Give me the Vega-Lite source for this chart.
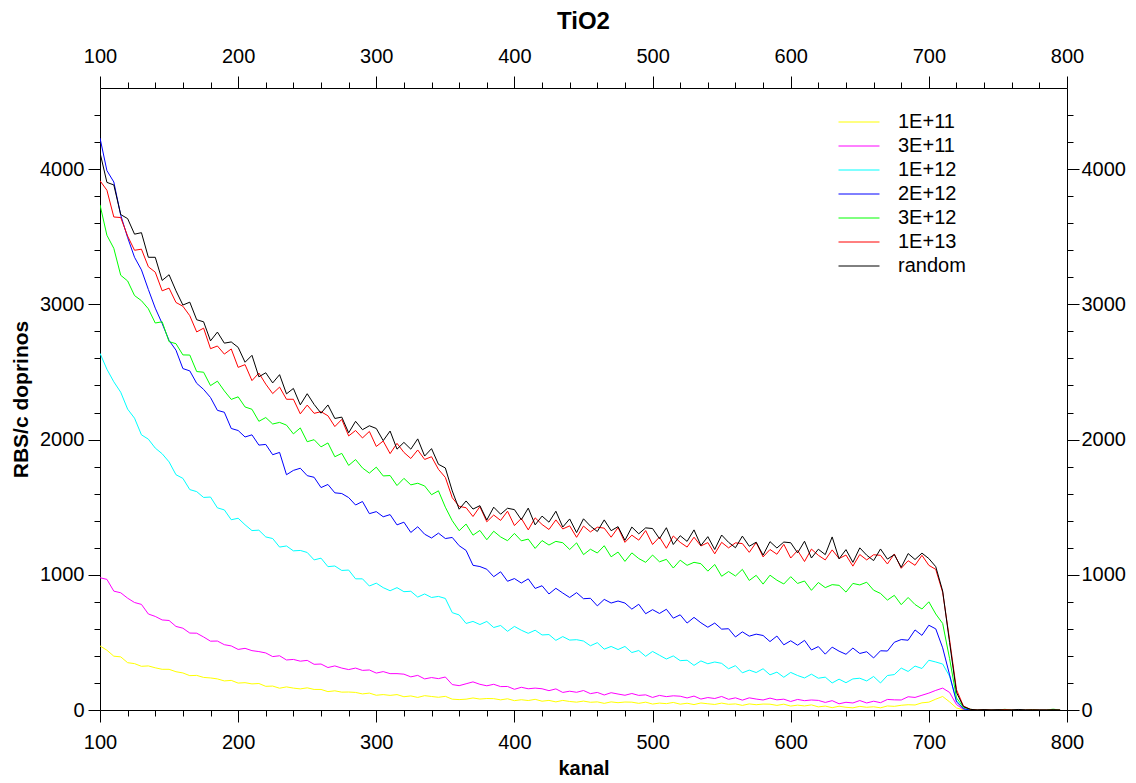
{
"$schema": "https://vega.github.io/schema/vega-lite/v6.json",
"width": 967, "height": 622,
"autosize": "none",
"padding": {"left": 100, "top": 88, "right": 69, "bottom": 73},
"background": "white",
"view": {"stroke": null},
"title": {"text": "TiO2", "font": "Liberation Sans", "fontSize": 24, "fontWeight": "bold", "color": "black", "offset": 12},
"config": {
  "font": "Liberation Sans",
  "axis": {"domainColor": "black", "tickColor": "black", "labelColor": "black", "titleColor": "black", "labelFont": "Liberation Sans", "labelFontSize": 20, "titleFont": "Liberation Sans", "titleFontSize": 20, "titleFontWeight": "bold", "grid": false, "labelOverlap": false, "labelFlush": false, "domainWidth": 1, "tickWidth": 1}
},
"data": {"values": [
{"k":100,"a":474,"b":978,"c":2638,"d":4230,"e":3736,"f":3914,"g":4122},
{"k":105,"a":442,"b":966,"c":2520,"d":3989,"e":3511,"f":3844,"g":3902},
{"k":110,"a":398,"b":879,"c":2427,"d":3905,"e":3414,"f":3646,"g":3883},
{"k":115,"a":393,"b":867,"c":2350,"d":3659,"e":3215,"f":3642,"g":3664},
{"k":120,"a":350,"b":827,"c":2225,"d":3494,"e":3173,"f":3505,"g":3634},
{"k":125,"a":343,"b":795,"c":2158,"d":3348,"e":3065,"f":3400,"g":3519},
{"k":130,"a":323,"b":781,"c":2035,"d":3255,"e":3027,"f":3408,"g":3530},
{"k":135,"a":326,"b":710,"c":2003,"d":3110,"e":2967,"f":3278,"g":3348},
{"k":140,"a":312,"b":692,"c":1937,"d":2972,"e":2862,"f":3238,"g":3348},
{"k":145,"a":301,"b":666,"c":1895,"d":2858,"e":2871,"f":3100,"g":3177},
{"k":150,"a":301,"b":662,"c":1835,"d":2733,"e":2724,"f":3120,"g":3219},
{"k":155,"a":283,"b":618,"c":1740,"d":2661,"e":2709,"f":3014,"g":3100},
{"k":160,"a":274,"b":605,"c":1713,"d":2525,"e":2626,"f":2986,"g":2995},
{"k":165,"a":254,"b":569,"c":1630,"d":2508,"e":2625,"f":2916,"g":3016},
{"k":170,"a":256,"b":568,"c":1615,"d":2416,"e":2503,"f":2796,"g":2886},
{"k":175,"a":241,"b":540,"c":1572,"d":2371,"e":2498,"f":2824,"g":2871},
{"k":180,"a":237,"b":509,"c":1575,"d":2311,"e":2399,"f":2672,"g":2730},
{"k":185,"a":230,"b":510,"c":1495,"d":2216,"e":2432,"f":2692,"g":2795},
{"k":190,"a":215,"b":483,"c":1480,"d":2202,"e":2360,"f":2632,"g":2713},
{"k":195,"a":219,"b":474,"c":1407,"d":2082,"e":2297,"f":2670,"g":2722},
{"k":200,"a":199,"b":448,"c":1418,"d":2067,"e":2316,"f":2534,"g":2682},
{"k":205,"a":202,"b":456,"c":1370,"d":2019,"e":2241,"f":2554,"g":2572},
{"k":210,"a":193,"b":439,"c":1327,"d":2035,"e":2224,"f":2436,"g":2623},
{"k":215,"a":196,"b":432,"c":1330,"d":1959,"e":2135,"f":2492,"g":2464},
{"k":220,"a":175,"b":422,"c":1280,"d":1964,"e":2163,"f":2410,"g":2494},
{"k":225,"a":177,"b":395,"c":1268,"d":1888,"e":2115,"f":2340,"g":2419},
{"k":230,"a":161,"b":401,"c":1205,"d":1905,"e":2127,"f":2388,"g":2480},
{"k":235,"a":171,"b":370,"c":1213,"d":1740,"e":2107,"f":2298,"g":2338},
{"k":240,"a":162,"b":374,"c":1177,"d":1772,"e":2042,"f":2298,"g":2378},
{"k":245,"a":156,"b":361,"c":1180,"d":1788,"e":2086,"f":2190,"g":2257},
{"k":250,"a":164,"b":367,"c":1165,"d":1733,"e":1984,"f":2255,"g":2339},
{"k":255,"a":152,"b":338,"c":1110,"d":1721,"e":1999,"f":2194,"g":2260},
{"k":260,"a":152,"b":340,"c":1123,"d":1645,"e":1946,"f":2206,"g":2195},
{"k":265,"a":136,"b":314,"c":1060,"d":1668,"e":1975,"f":2176,"g":2256},
{"k":270,"a":142,"b":326,"c":1065,"d":1606,"e":1873,"f":2096,"g":2156},
{"k":275,"a":132,"b":310,"c":1032,"d":1601,"e":1898,"f":2149,"g":2166},
{"k":280,"a":133,"b":299,"c":1035,"d":1571,"e":1809,"f":2027,"g":2050},
{"k":285,"a":130,"b":310,"c":970,"d":1516,"e":1852,"f":2067,"g":2135},
{"k":290,"a":119,"b":293,"c":970,"d":1542,"e":1790,"f":2012,"g":2073},
{"k":295,"a":125,"b":296,"c":917,"d":1452,"e":1752,"f":2060,"g":2102},
{"k":300,"a":109,"b":273,"c":938,"d":1467,"e":1796,"f":1949,"g":2082},
{"k":305,"a":114,"b":284,"c":905,"d":1429,"e":1731,"f":1989,"g":1992},
{"k":310,"a":108,"b":269,"c":882,"d":1445,"e":1734,"f":1896,"g":2063},
{"k":315,"a":114,"b":269,"c":905,"d":1369,"e":1660,"f":1972,"g":1929},
{"k":320,"a":98,"b":265,"c":875,"d":1389,"e":1713,"f":1905,"g":1979},
{"k":325,"a":104,"b":245,"c":878,"d":1313,"e":1665,"f":1860,"g":1929},
{"k":330,"a":93,"b":256,"c":835,"d":1355,"e":1677,"f":1923,"g":2005},
{"k":335,"a":106,"b":230,"c":858,"d":1300,"e":1657,"f":1853,"g":1878},
{"k":340,"a":100,"b":240,"c":832,"d":1272,"e":1592,"f":1873,"g":1933},
{"k":345,"a":94,"b":232,"c":840,"d":1308,"e":1621,"f":1780,"g":1817},
{"k":350,"a":101,"b":244,"c":825,"d":1268,"e":1500,"f":1720,"g":1790},
{"k":355,"a":80,"b":188,"c":720,"d":1276,"e":1400,"f":1570,"g":1620},
{"k":360,"a":77,"b":180,"c":703,"d":1215,"e":1326,"f":1506,"g":1485},
{"k":365,"a":80,"b":194,"c":640,"d":1180,"e":1375,"f":1496,"g":1546},
{"k":370,"a":89,"b":208,"c":655,"d":1070,"e":1293,"f":1431,"g":1486},
{"k":375,"a":81,"b":190,"c":632,"d":1061,"e":1328,"f":1504,"g":1511},
{"k":380,"a":85,"b":179,"c":655,"d":1041,"e":1259,"f":1392,"g":1405},
{"k":385,"a":84,"b":190,"c":610,"d":986,"e":1322,"f":1442,"g":1500},
{"k":390,"a":75,"b":173,"c":625,"d":1022,"e":1280,"f":1402,"g":1448},
{"k":395,"a":83,"b":174,"c":582,"d":952,"e":1252,"f":1470,"g":1492},
{"k":400,"a":69,"b":153,"c":618,"d":972,"e":1306,"f":1364,"g":1482},
{"k":405,"a":76,"b":168,"c":590,"d":939,"e":1251,"f":1417,"g":1407},
{"k":410,"a":70,"b":157,"c":567,"d":970,"e":1264,"f":1332,"g":1493},
{"k":415,"a":79,"b":162,"c":590,"d":899,"e":1195,"f":1421,"g":1369},
{"k":420,"a":65,"b":157,"c":555,"d":919,"e":1253,"f":1372,"g":1434},
{"k":425,"a":71,"b":143,"c":558,"d":858,"e":1220,"f":1335,"g":1389},
{"k":430,"a":60,"b":156,"c":515,"d":900,"e":1247,"f":1406,"g":1470},
{"k":435,"a":71,"b":130,"c":543,"d":865,"e":1237,"f":1339,"g":1353},
{"k":440,"a":63,"b":139,"c":517,"d":832,"e":1187,"f":1362,"g":1413},
{"k":445,"a":58,"b":131,"c":520,"d":868,"e":1236,"f":1277,"g":1312},
{"k":450,"a":66,"b":144,"c":510,"d":823,"e":1149,"f":1360,"g":1414},
{"k":455,"a":57,"b":121,"c":475,"d":826,"e":1189,"f":1317,"g":1360},
{"k":460,"a":60,"b":130,"c":498,"d":770,"e":1161,"f":1352,"g":1320},
{"k":465,"a":49,"b":111,"c":450,"d":818,"e":1215,"f":1345,"g":1406},
{"k":470,"a":60,"b":128,"c":470,"d":791,"e":1133,"f":1278,"g":1326},
{"k":475,"a":54,"b":118,"c":447,"d":806,"e":1168,"f":1349,"g":1356},
{"k":480,"a":59,"b":109,"c":470,"d":791,"e":1099,"f":1240,"g":1255},
{"k":485,"a":58,"b":122,"c":425,"d":746,"e":1162,"f":1293,"g":1353},
{"k":490,"a":49,"b":108,"c":440,"d":782,"e":1120,"f":1256,"g":1303},
{"k":495,"a":58,"b":112,"c":397,"d":712,"e":1092,"f":1327,"g":1347},
{"k":500,"a":44,"b":93,"c":433,"d":742,"e":1146,"f":1224,"g":1342},
{"k":505,"a":51,"b":108,"c":405,"d":714,"e":1096,"f":1279,"g":1267},
{"k":510,"a":47,"b":99,"c":377,"d":745,"e":1114,"f":1196,"g":1348},
{"k":515,"a":56,"b":105,"c":400,"d":679,"e":1050,"f":1287,"g":1224},
{"k":520,"a":43,"b":102,"c":365,"d":704,"e":1108,"f":1240,"g":1289},
{"k":525,"a":50,"b":89,"c":368,"d":643,"e":1070,"f":1205,"g":1247},
{"k":530,"a":40,"b":103,"c":330,"d":685,"e":1092,"f":1278,"g":1332},
{"k":535,"a":52,"b":81,"c":363,"d":645,"e":1082,"f":1213,"g":1216},
{"k":540,"a":46,"b":92,"c":342,"d":612,"e":1027,"f":1238,"g":1282},
{"k":545,"a":41,"b":85,"c":355,"d":643,"e":1076,"f":1155,"g":1187},
{"k":550,"a":51,"b":100,"c":345,"d":598,"e":989,"f":1240,"g":1294},
{"k":555,"a":42,"b":79,"c":305,"d":601,"e":1024,"f":1199,"g":1240},
{"k":560,"a":45,"b":90,"c":328,"d":540,"e":991,"f":1236,"g":1200},
{"k":565,"a":34,"b":73,"c":275,"d":578,"e":1040,"f":1231,"g":1286},
{"k":570,"a":45,"b":90,"c":295,"d":546,"e":958,"f":1166,"g":1211},
{"k":575,"a":39,"b":81,"c":277,"d":561,"e":996,"f":1239,"g":1241},
{"k":580,"a":44,"b":74,"c":305,"d":551,"e":931,"f":1132,"g":1145},
{"k":585,"a":43,"b":88,"c":260,"d":506,"e":997,"f":1187,"g":1245},
{"k":590,"a":34,"b":75,"c":280,"d":547,"e":960,"f":1152,"g":1198},
{"k":595,"a":43,"b":80,"c":242,"d":482,"e":932,"f":1225,"g":1242},
{"k":600,"a":29,"b":63,"c":278,"d":512,"e":986,"f":1124,"g":1237},
{"k":605,"a":36,"b":78,"c":255,"d":479,"e":936,"f":1180,"g":1162},
{"k":610,"a":30,"b":69,"c":237,"d":515,"e":954,"f":1098,"g":1248},
{"k":615,"a":38,"b":74,"c":265,"d":444,"e":885,"f":1190,"g":1124},
{"k":620,"a":23,"b":71,"c":235,"d":469,"e":943,"f":1144,"g":1189},
{"k":625,"a":29,"b":56,"c":243,"d":413,"e":905,"f":1110,"g":1149},
{"k":630,"a":17,"b":69,"c":200,"d":465,"e":927,"f":1184,"g":1280},
{"k":635,"a":28,"b":46,"c":228,"d":435,"e":922,"f":1120,"g":1118},
{"k":640,"a":20,"b":57,"c":202,"d":412,"e":872,"f":1146,"g":1186},
{"k":645,"a":16,"b":52,"c":230,"d":458,"e":936,"f":1064,"g":1092},
{"k":650,"a":27,"b":70,"c":235,"d":418,"e":925,"f":1150,"g":1199},
{"k":655,"a":20,"b":52,"c":215,"d":431,"e":945,"f":1110,"g":1145},
{"k":660,"a":24,"b":65,"c":248,"d":385,"e":886,"f":1148,"g":1105},
{"k":665,"a":16,"b":54,"c":200,"d":438,"e":862,"f":1144,"g":1191},
{"k":670,"a":30,"b":78,"c":255,"d":436,"e":813,"f":1080,"g":1116},
{"k":675,"a":27,"b":75,"c":262,"d":501,"e":848,"f":1154,"g":1149},
{"k":680,"a":35,"b":74,"c":310,"d":521,"e":779,"f":1048,"g":1055},
{"k":685,"a":39,"b":98,"c":285,"d":516,"e":832,"f":1104,"g":1157},
{"k":690,"a":37,"b":93,"c":325,"d":592,"e":780,"f":1070,"g":1113},
{"k":695,"a":53,"b":109,"c":307,"d":552,"e":747,"f":1144,"g":1160},
{"k":700,"a":58,"b":125,"c":368,"d":627,"e":800,"f":1070,"g":1120},
{"k":705,"a":80,"b":145,"c":355,"d":600,"e":710,"f":1040,"g":1060},
{"k":710,"a":100,"b":162,"c":340,"d":460,"e":640,"f":870,"g":880},
{"k":715,"a":60,"b":130,"c":250,"d":260,"e":380,"f":520,"g":500},
{"k":720,"a":15,"b":40,"c":70,"d":60,"e":90,"f":150,"g":130},
{"k":725,"a":2,"b":5,"c":10,"d":10,"e":20,"f":30,"g":25},
{"k":730,"a":0,"b":0,"c":0,"d":0,"e":5,"f":5,"g":5},
{"k":735,"a":0,"b":0,"c":0,"d":0,"e":0,"f":0,"g":0},
{"k":740,"a":0,"b":0,"c":2,"d":0,"e":2,"f":2,"g":3},
{"k":745,"a":0,"b":0,"c":0,"d":0,"e":0,"f":0,"g":0},
{"k":750,"a":0,"b":0,"c":0,"d":0,"e":0,"f":0,"g":2},
{"k":755,"a":0,"b":0,"c":0,"d":0,"e":5,"f":3,"g":0},
{"k":760,"a":0,"b":0,"c":0,"d":0,"e":0,"f":0,"g":0},
{"k":765,"a":0,"b":0,"c":0,"d":0,"e":0,"f":0,"g":4},
{"k":770,"a":0,"b":0,"c":0,"d":0,"e":0,"f":0,"g":0},
{"k":775,"a":0,"b":0,"c":0,"d":0,"e":3,"f":1,"g":1},
{"k":780,"a":0,"b":0,"c":0,"d":0,"e":0,"f":0,"g":0},
{"k":785,"a":0,"b":0,"c":0,"d":0,"e":0,"f":0,"g":0},
{"k":790,"a":0,"b":0,"c":0,"d":0,"e":6,"f":0,"g":2},
{"k":795,"a":0,"b":0,"c":0,"d":0,"e":0,"f":0,"g":0}
]},
"transform": [{"fold": ["a","b","c","d","e","f","g"], "as": ["s","v"]}],
"layer": [
  {
    "mark": {"type": "line", "strokeWidth": 1, "clip": true},
    "encoding": {
      "x": {"field": "k", "type": "quantitative",
        "scale": {"domain": [100, 800], "nice": false, "zero": false},
        "axis": {"orient": "bottom", "title": "kanal", "titlePadding": 6,
          "values": [100,120,140,160,180,200,220,240,260,280,300,320,340,360,380,400,420,440,460,480,500,520,540,560,580,600,620,640,660,680,700,720,740,760,780,800],
          "labelExpr": "datum.value % 100 === 0 ? datum.label : ''",
          "tickSize": {"condition": {"test": "datum.value % 100 === 0", "value": 12}, "value": 6},
          "labelPadding": 10}},
      "y": {"field": "v", "type": "quantitative",
        "scale": {"domain": [0, 4600], "nice": false},
        "axis": {"orient": "left", "title": "RBS/c doprinos", "titlePadding": 8, "titleFontSize": 21,
          "values": [0,200,400,600,800,1000,1200,1400,1600,1800,2000,2200,2400,2600,2800,3000,3200,3400,3600,3800,4000,4200,4400],
          "labelExpr": "datum.value % 1000 === 0 ? datum.label : ''",
          "format": "d",
          "tickSize": {"condition": {"test": "datum.value % 1000 === 0", "value": 12}, "value": 6},
          "labelPadding": 4}},
      "color": {"field": "s", "type": "nominal",
        "scale": {"domain": ["a","b","c","d","e","f","g"], "range": ["#ffff00","#ff00ff","#00ffff","#0000ff","#00ff00","#ff0000","#000000"]},
        "legend": {"orient": "none", "legendX": 748, "legendY": 23, "title": null,
          "symbolType": "M-2,0H2", "symbolSize": 420, "symbolStrokeWidth": 1,
          "labelFont": "Liberation Sans", "labelFontSize": 20, "labelColor": "black", "labelOffset": 28, "rowPadding": 3,
          "labelExpr": "({'a':'1E+11','b':'3E+11','c':'1E+12','d':'2E+12','e':'3E+12','f':'1E+13','g':'random'})[datum.label]"}}
    }
  },
  {
    "mark": {"type": "line", "strokeOpacity": 0, "clip": true},
    "encoding": {
      "x": {"field": "k", "type": "quantitative",
        "axis": {"orient": "top", "title": null,
          "values": [100,120,140,160,180,200,220,240,260,280,300,320,340,360,380,400,420,440,460,480,500,520,540,560,580,600,620,640,660,680,700,720,740,760,780,800],
          "labelExpr": "datum.value % 100 === 0 ? datum.label : ''",
          "tickSize": {"condition": {"test": "datum.value % 100 === 0", "value": 12}, "value": 6},
          "labelPadding": 10}},
      "y": {"field": "v", "type": "quantitative",
        "axis": {"orient": "right", "title": null,
          "values": [0,200,400,600,800,1000,1200,1400,1600,1800,2000,2200,2400,2600,2800,3000,3200,3400,3600,3800,4000,4200,4400],
          "labelExpr": "datum.value % 1000 === 0 ? datum.label : ''",
          "format": "d",
          "tickSize": {"condition": {"test": "datum.value % 1000 === 0", "value": 12}, "value": 6},
          "labelPadding": 2}},
      "detail": {"field": "s", "type": "nominal"}
    }
  }
],
"resolve": {"axis": {"x": "independent", "y": "independent"}}
}
